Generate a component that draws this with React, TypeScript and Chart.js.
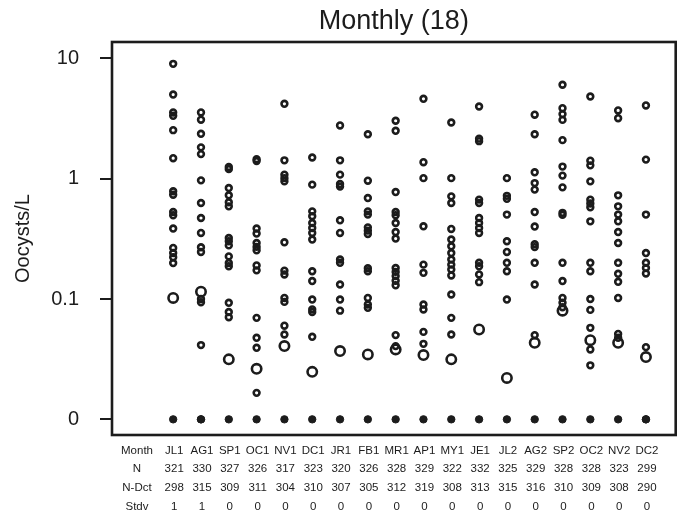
import React, { useEffect, useRef } from "react";
import { Chart, registerables } from "chart.js";

Chart.register(...registerables);

const FONT = "'Liberation Sans', Arial, Helvetica, sans-serif";
const INK = "#1c1c1c";

const months = ["JL1", "AG1", "SP1", "OC1", "NV1", "DC1", "JR1", "FB1", "MR1", "AP1", "MY1", "JE1", "JL2", "AG2", "SP2", "OC2", "NV2", "DC2"];
const nCounts = [321, 330, 327, 326, 317, 323, 320, 326, 328, 329, 322, 332, 325, 329, 328, 328, 323, 299];
const nDct = [298, 315, 309, 311, 304, 310, 307, 305, 312, 319, 308, 313, 315, 316, 310, 309, 308, 290];
const stdv = [1, 1, 0, 0, 0, 0, 0, 0, 0, 0, 0, 0, 0, 0, 0, 0, 0, 0];

const yTickValues = [0.01, 0.1, 1, 10];
const yTickLabels = ["0", "0.1", "1", "10"];
const ZERO_AT = 0.01; // position where zero observations are drawn (label "0")

// observations per month (Oocysts/L); 0 = not detected
const JL1 = [9.0, 5.0, 3.55, 3.33, 2.53, 1.48, 0.785, 0.736, 0.528, 0.496, 0.385, 0.266, 0.241, 0.222, 0.199, 0];
const AG1 = [3.55, 3.09, 2.36, 1.82, 1.6, 0.968, 0.628, 0.471, 0.354, 0.269, 0.246, 0.1, 0.094, 0.0414, 0, 0];
const SP1 = [1.25, 1.2, 0.836, 0.727, 0.636, 0.589, 0.321, 0.302, 0.279, 0.226, 0.199, 0.187, 0.093, 0.078, 0.0706, 0];
const OC1 = [1.45, 1.4, 0.385, 0.35, 0.292, 0.271, 0.254, 0.19, 0.173, 0.0697, 0.0476, 0.0393, 0.0166, 0];
const NV1 = [4.19, 1.42, 1.08, 1.01, 0.95, 0.296, 0.172, 0.16, 0.102, 0.0946, 0.06, 0.0507, 0];
const DC1 = [1.5, 0.892, 0.535, 0.487, 0.428, 0.389, 0.354, 0.312, 0.17, 0.141, 0.099, 0.082, 0.078, 0.0485, 0];
const JR1 = [2.77, 1.42, 1.08, 0.902, 0.859, 0.451, 0.354, 0.213, 0.2, 0.132, 0.099, 0.08, 0];
const FB1 = [2.34, 0.962, 0.69, 0.535, 0.503, 0.394, 0.37, 0.347, 0.18, 0.17, 0.102, 0.09, 0.0844, 0];
const MR1 = [3.03, 2.5, 0.774, 0.528, 0.496, 0.428, 0.36, 0.318, 0.181, 0.168, 0.155, 0.142, 0.13, 0.0501, 0.0406, 0];
const AP1 = [4.61, 1.37, 1.01, 0.402, 0.193, 0.165, 0.09, 0.0818, 0.0533, 0.0424, 0];
const MY1 = [2.93, 1.01, 0.713, 0.628, 0.382, 0.312, 0.274, 0.241, 0.213, 0.193, 0.176, 0.157, 0.109, 0.0697, 0.0507, 0];
const JE1 = [3.98, 2.15, 2.05, 0.67, 0.628, 0.471, 0.428, 0.389, 0.354, 0.2, 0.187, 0.16, 0.138, 0];
const JL2 = [1.01, 0.72, 0.68, 0.503, 0.302, 0.246, 0.2, 0.17, 0.099, 0];
const AG2 = [3.4, 2.34, 1.13, 0.919, 0.811, 0.528, 0.4, 0.285, 0.27, 0.2, 0.132, 0.0501, 0];
const SP2 = [6.03, 3.85, 3.44, 3.08, 2.09, 1.26, 1.06, 0.847, 0.52, 0.5, 0.2, 0.141, 0.102, 0.093, 0.0855, 0];
const OC2 = [4.82, 1.41, 1.29, 0.95, 0.669, 0.621, 0.578, 0.442, 0.2, 0.17, 0.1, 0.0812, 0.0576, 0.0381, 0.0281, 0];
const NV2 = [3.69, 3.18, 0.727, 0.589, 0.503, 0.442, 0.36, 0.292, 0.2, 0.162, 0.139, 0.102, 0.0513, 0.0476, 0];
const DC2 = [4.06, 1.44, 0.503, 0.241, 0.2, 0.181, 0.163, 0.0398, 0, 0];

const monthValues = [JL1, AG1, SP1, OC1, NV1, DC1, JR1, FB1, MR1, AP1, MY1, JE1, JL2, AG2, SP2, OC2, NV2, DC2];

// large open circles (one per month)
const bigCircle = [0.102, 0.115, 0.0315, 0.0263, 0.0406, 0.0248, 0.0369, 0.0346, 0.0381, 0.0342, 0.0315, 0.0558, 0.0221, 0.0432, 0.08, 0.0455, 0.0432, 0.0329];

const tableRows = [
  { label: "Month", values: months },
  { label: "N", values: nCounts.map(String) },
  { label: "N-Dct", values: nDct.map(String) },
  { label: "Stdv", values: stdv.map(String) },
];

export default function App() {
  const ref = useRef<HTMLCanvasElement>(null);

  useEffect(() => {
    document.body.style.margin = "0";
    const canvas = ref.current;
    if (!canvas) return;

    const ringPts: { x: number; y: number }[] = [];
    const zeroPts: { x: number; y: number }[] = [];
    monthValues.forEach((arr, i) => {
      arr.forEach((v) => {
        if (v > 0) ringPts.push({ x: i + 1, y: v });
        else zeroPts.push({ x: i + 1, y: ZERO_AT });
      });
    });
    const bigPts = bigCircle.map((v, i) => ({ x: i + 1, y: v }));

    const framePlugin = {
      id: "frameAndTable",
      afterDraw(chart: any) {
        const { ctx, chartArea } = chart;
        const xs = chart.scales.x;
        ctx.save();
        // frame
        ctx.strokeStyle = INK;
        ctx.lineWidth = 2.6;
        ctx.strokeRect(chartArea.left, chartArea.top, chartArea.right - chartArea.left, chartArea.bottom - chartArea.top);
        // title
        ctx.fillStyle = INK;
        ctx.font = `27px ${FONT}`;
        ctx.textAlign = "center";
        ctx.textBaseline = "middle";
        ctx.fillText("Monthly (18)", (chartArea.left + chartArea.right) / 2, 22);
        // table
        ctx.font = `11.5px ${FONT}`;
        const rowY = [451, 469, 488, 507];
        tableRows.forEach((row, r) => {
          ctx.fillText(row.label, 137, rowY[r]);
          row.values.forEach((t, i) => {
            ctx.fillText(t, xs.getPixelForValue(i + 1) + 1, rowY[r]);
          });
        });
        ctx.restore();
      },
    };

    const chart = new Chart(canvas, {
      type: "scatter",
      data: {
        datasets: [
          {
            label: "zero",
            data: zeroPts,
            pointRadius: 3.7,
            pointBackgroundColor: INK,
            pointBorderColor: INK,
            pointBorderWidth: 1,
          },
          {
            label: "obs",
            data: ringPts,
            pointRadius: 2.9,
            pointBackgroundColor: "rgba(0,0,0,0)",
            pointBorderColor: INK,
            pointBorderWidth: 2.6,
          },
          {
            label: "big",
            data: bigPts,
            pointRadius: 4.7,
            pointBackgroundColor: "rgba(0,0,0,0)",
            pointBorderColor: INK,
            pointBorderWidth: 2.6,
          },
        ],
      },
      options: {
        animation: false,
        responsive: false,
        devicePixelRatio: 1,
        layout: { padding: { left: 0, right: 3, top: 42, bottom: 89 } },
        plugins: { legend: { display: false }, tooltip: { enabled: false }, title: { display: false } },
        scales: {
          x: { type: "linear", min: -1.2, max: 19.07, display: false },
          y: {
            type: "logarithmic",
            min: 0.00741,
            max: 13.67,
            afterFit: (s: any) => {
              s.width = 112;
            },
            afterBuildTicks: (s: any) => {
              s.ticks = yTickValues.map((v) => ({ value: v }));
            },
            ticks: {
              autoSkip: false,
              color: INK,
              padding: 21,
              font: { size: 20, family: FONT },
              callback: (v: any) => {
                const i = yTickValues.findIndex((t) => Math.abs(t - Number(v)) < 1e-9);
                return i >= 0 ? yTickLabels[i] : "";
              },
            },
            grid: { drawOnChartArea: false, drawTicks: true, tickLength: 12, color: INK, lineWidth: 2 },
            border: { display: false },
            title: { display: true, text: "Oocysts/L", color: INK, font: { size: 20, family: FONT }, padding: { top: 11, bottom: 0 } },
          },
        },
      },
      plugins: [framePlugin],
    });

    return () => chart.destroy();
  }, []);

  return (
    <div style={{ width: 683, height: 524, background: "#fff" }}>
      <canvas ref={ref} width={683} height={524} style={{ display: "block" }} />
    </div>
  );
}
